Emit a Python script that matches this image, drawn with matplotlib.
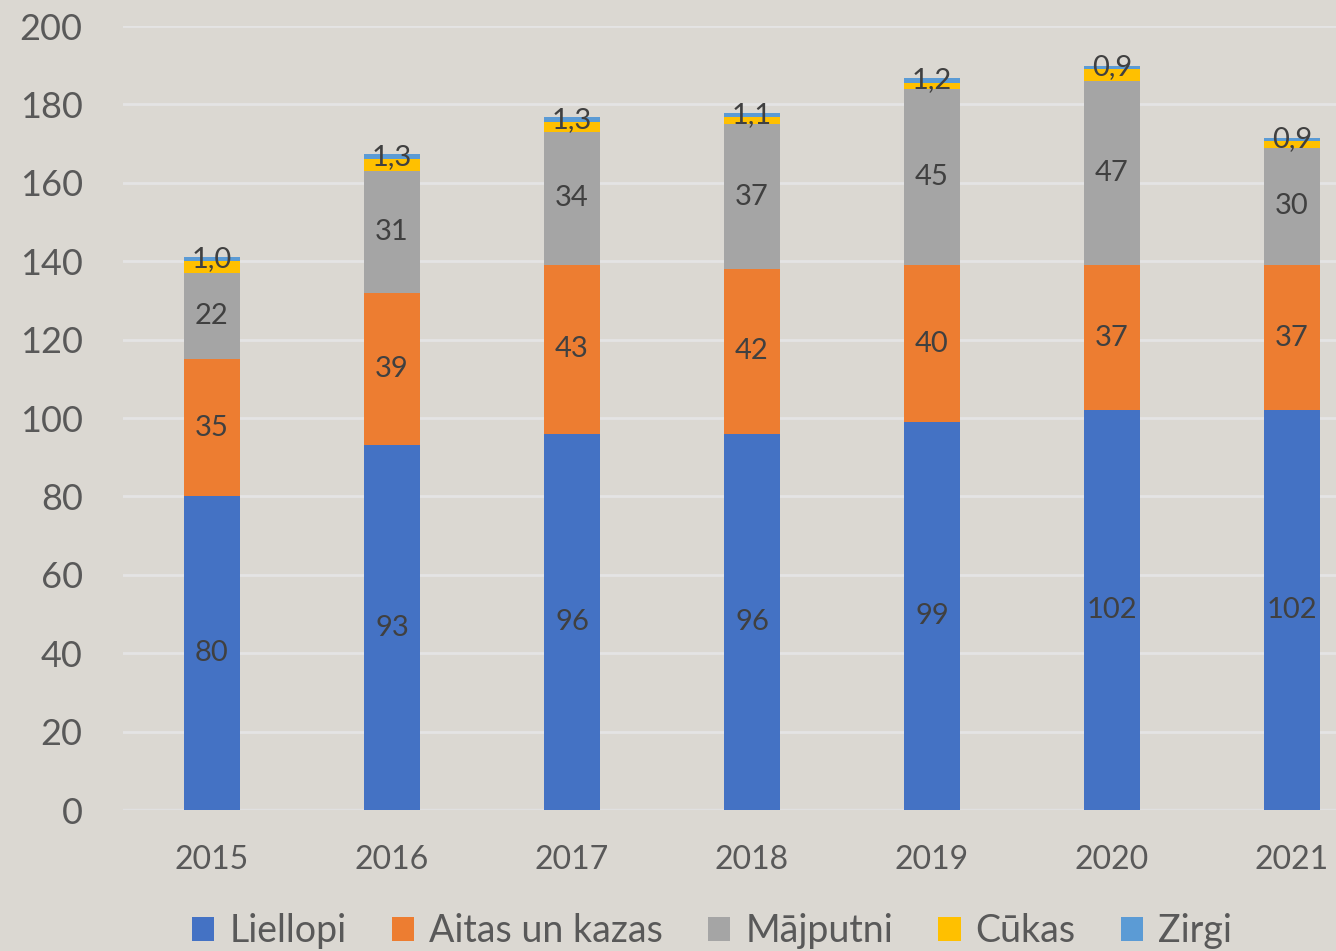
import matplotlib
matplotlib.use("Agg")
import matplotlib.pyplot as plt
import numpy as np

years = ["2015", "2016", "2017", "2018", "2019", "2020", "2021"]
liellopi = [80, 93, 96, 96, 99, 102, 102]
aitas = [35, 39, 43, 42, 40, 37, 37]
majputni = [22, 31, 34, 37, 45, 47, 30]
cukas = [3.0, 3.0, 2.4, 1.7, 1.5, 3.0, 1.6]
zirgi = [1.0, 1.3, 1.3, 1.1, 1.2, 0.9, 0.9]

series = [
    ("Liellopi", liellopi, "#4472C4"),
    ("Aitas un kazas", aitas, "#ED7D31"),
    ("Mājputni", majputni, "#A5A5A5"),
    ("Cūkas", cukas, "#FFC000"),
    ("Zirgi", zirgi, "#5B9BD5"),
]

plt.rcParams['font.family'] = ['Lato', 'DejaVu Sans']
bg = "#dbd8d2"
txt = "#595959"
lbl = "#404040"

fig = plt.figure(figsize=(13.36, 9.51), dpi=100, facecolor=bg)
ax = fig.add_axes([123/1336, (951-810)/951, 1 - 123/1336, (810-26)/951])
ax.set_facecolor(bg)

x = np.arange(len(years))
bottom = np.zeros(len(years))
handles = []
for name, vals, col in series:
    vals = np.array(vals, dtype=float)
    bars = ax.bar(x, vals, 0.31, bottom=bottom, color=col, label=name, zorder=3)
    handles.append(bars)
    if name in ("Liellopi", "Aitas un kazas", "Mājputni"):
        labels = [f"{v:.0f}" for v in vals]
        ax.bar_label(bars, labels=labels, label_type='center', fontsize=21, color=lbl)
    elif name == "Zirgi":
        labels = [f"{v:.1f}".replace(".", ",") for v in vals]
        ax.bar_label(bars, labels=labels, label_type='center', fontsize=21, color=lbl)
    bottom += vals

ax.set_ylim(0, 200)
ax.set_xlim(-89/180, (1336-212)/180)
ax.set_yticks(np.arange(0, 201, 20))
ax.set_xticks(x)
ax.set_xticklabels(years)
ax.yaxis.grid(True, color="#e4e4e4", linewidth=2, zorder=0)
ax.set_axisbelow(True)
for s in ax.spines.values():
    s.set_visible(False)
ax.axhline(0, color="#e0e0e0", linewidth=2.5, zorder=1)
ax.tick_params(axis='y', length=0, labelsize=26, labelcolor=txt, pad=29)
ax.tick_params(axis='x', length=0, labelsize=23, labelcolor=txt, pad=25)

leg = fig.legend(handles=handles, loc='center', bbox_to_anchor=(0.533, 0.021), ncol=5,
                 frameon=False, fontsize=27, labelcolor=txt, handlelength=0.6,
                 handleheight=0.6, handletextpad=0.4, columnspacing=1.2)

fig.savefig("out.png", dpi=100, facecolor=bg)
